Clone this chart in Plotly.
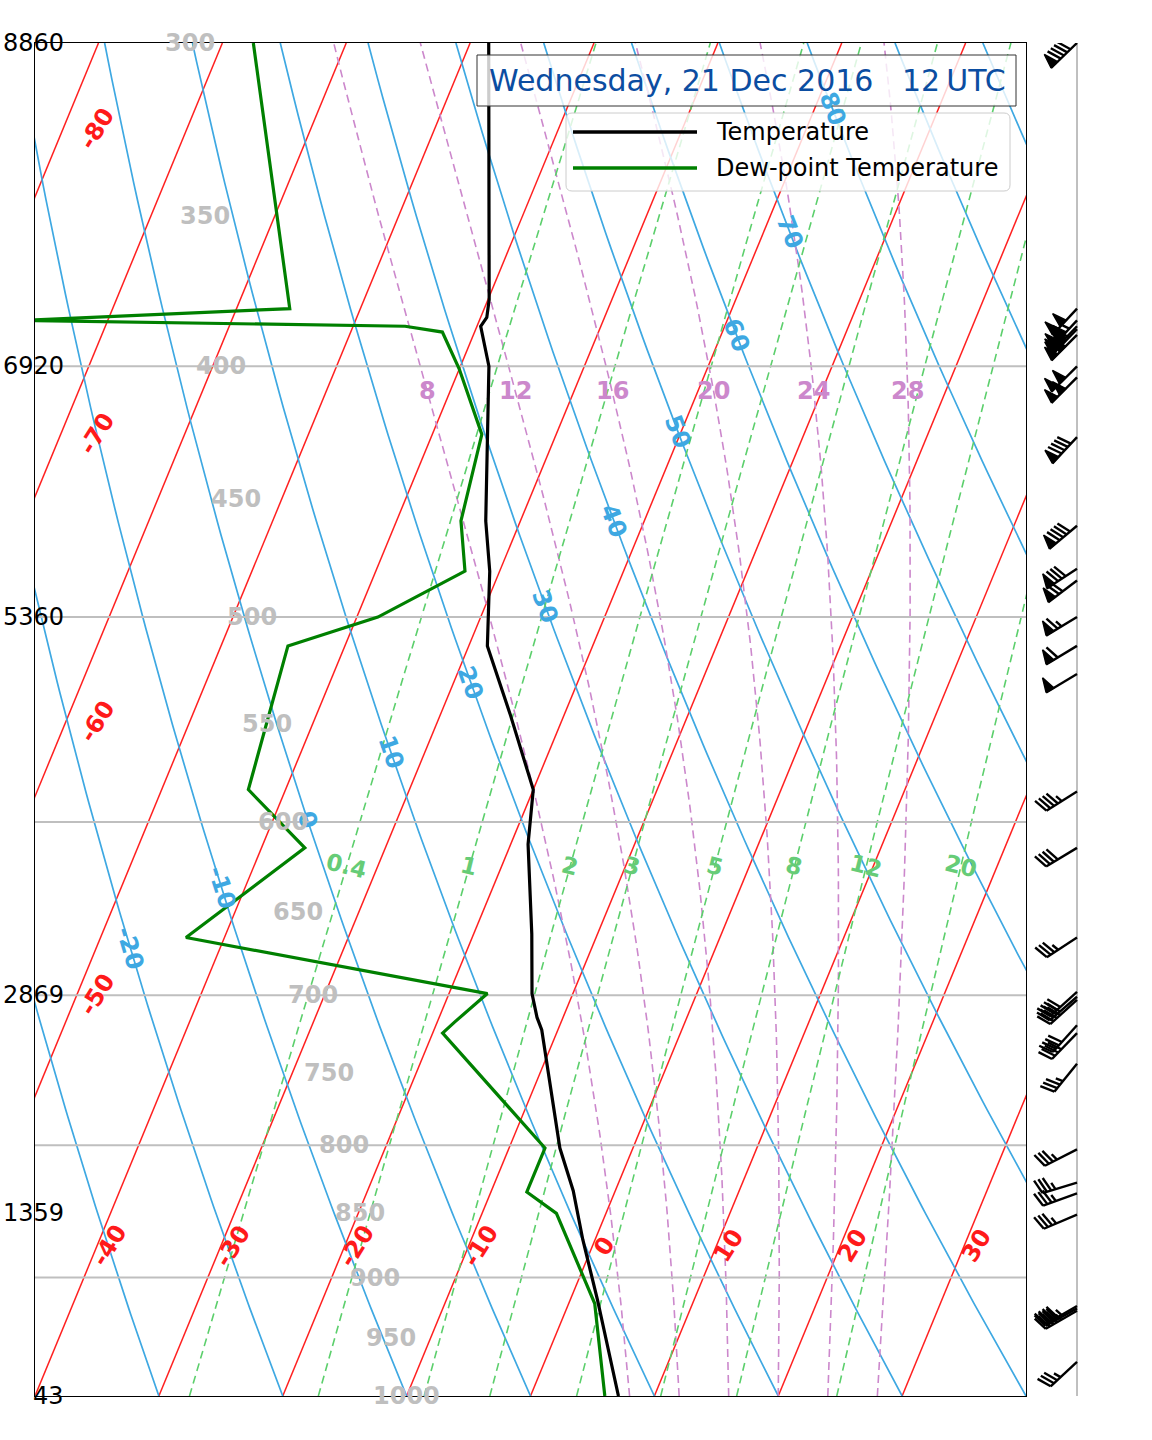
import numpy as np
import plotly.graph_objects as go

# ---------------- data ----------------
temp_p = [1000, 918, 870, 833, 802, 722, 714, 699, 663, 612, 583, 545, 513, 480, 459, 423, 400, 386, 383, 377, 300]
temp_c = [7.1, 2.2, -1.0, -3.4, -5.9, -11.3, -12.1, -13.3, -15.3, -18.6, -20.0, -24.4, -28.5, -30.8, -32.8, -35.7,
          -37.7, -39.7, -39.5, -39.9, -48.5]

dew_p = [1000, 921, 850, 834, 802, 724, 717, 699, 665, 614, 583, 513, 500, 480, 459, 425, 401, 388, 386, 384, 380, 300]
dew_c = [6.0, 2.1, -4.0, -7.1, -7.1, -19.2, -18.6, -16.9, -43.1, -36.5, -43.0, -44.6, -38.3, -32.8, -34.8, -36.0,
         -40.0, -42.6, -45.8, -77.0, -55.7, -67.5]

height_p = [300, 400, 500, 700, 850, 1000]
height_m = ["8860", "6920", "5360", "2869", "1359", "43"]

grid_p = [400, 500, 600, 700, 800, 900]
plabel_p = [300, 350, 400, 450, 500, 550, 600, 650, 700, 750, 800, 850, 900, 950, 1000]

isotherm_c = list(range(-140, 50, 10))
isotherm_label_c = [-80, -70, -60, -50, -40, -30, -20, -10, 0, 10, 20, 30]
dry_theta_c = list(range(-70, 180, 10))
dry_label_theta = [-20, -10, 0, 10, 20, 30, 40, 50, 60, 70, 80]
moist_thetaw_c = [8, 12, 16, 20, 24, 28]
mixing_gkg = [0.4, 1, 2, 3, 5, 8, 12, 20]
mixing_text = ["0.4", "1", "2", "3", "5", "8", "12", "20"]

wind_p = [300, 380, 384, 386, 387, 389, 400, 404, 426, 461, 479, 484, 500, 513, 526, 584, 614, 665,
          698, 701, 703, 719, 724, 744, 803, 827, 835, 851, 923, 925, 927, 970]
wind_dir = [226, 223, 223, 224, 224, 225, 225, 225, 223, 230, 237, 233, 239, 239, 239, 238, 239, 237,
            228, 229, 228, 222, 224, 219, 243, 253, 250, 247, 240, 241, 240, 227]
wind_kt = [90, 100, 105, 100, 105, 100, 100, 100, 90, 90, 80, 70, 65, 60, 50, 45, 40, 35,
           40, 40, 40, 40, 40, 35, 35, 35, 35, 35, 45, 40, 45, 35]

title_text = "Wednesday, 21 Dec 2016&nbsp;&nbsp;&nbsp;12\u2009UTC"

# ---------------- layout constants ----------------
W, H = 1152, 1440
PX_L, PX_R, PX_T, PX_B = 35.0, 1026.0, 43.0, 1396.0
BARB_X = 1077.0
P_BOT, P_TOP = 1000.0, 300.0
T_LEFT, T_RIGHT = -40.0, 40.0
SKEW_PX = 559.0
PX_PER_C = (PX_R - PX_L) / (T_RIGHT - T_LEFT)
SKEW_C = SKEW_PX / PX_PER_C
LOGSPAN = np.log10(P_BOT / P_TOP)
PLOT_H = PX_B - PX_T
FONT = "DejaVu Sans"

RED = "#ff1a1a"
BLUE = "#3ea8e2"
GREEN_D = "#5ccf6c"
PINK = "#cc88cc"
GRAY = "#bfbfbf"
LBL = 24


def yfrac(p):
    return np.log10(P_BOT / np.asarray(p, float)) / LOGSPAN


def skx(t, p):
    return np.asarray(t, float) + SKEW_C * yfrac(p)


def pix(t, p):
    x = PX_L + (skx(t, p) - T_LEFT) * PX_PER_C
    y = PX_B - yfrac(p) * PLOT_H
    return x, y


def fx(px):
    return px / W


def fy(py):
    return 1 - py / H


# ---------------- thermodynamics for background lines ----------------
Rd, Cp, Lv, EPS = 287.04749, 1004.6662, 2.50084e6, 0.621957
KAPPA = Rd / Cp


def es_hpa(tk):
    return 6.112 * np.exp(17.67 * (tk - 273.15) / (tk - 29.65))


def dtdp(p, tk):
    es = es_hpa(tk)
    rs = EPS * es / (p - es)
    return (1.0 / p) * (Rd * tk + Lv * rs) / (Cp + (Lv * Lv * rs * EPS) / (Rd * tk * tk))


def moist_profile(t0c, pres):
    tk = t0c + 273.15
    out = [tk]
    for i in range(1, len(pres)):
        p0, p1 = pres[i - 1], pres[i]
        h = p1 - p0
        k1 = dtdp(p0, tk)
        k2 = dtdp(p0 + h / 2, tk + h / 2 * k1)
        k3 = dtdp(p0 + h / 2, tk + h / 2 * k2)
        k4 = dtdp(p1, tk + h * k3)
        tk = tk + h / 6 * (k1 + 2 * k2 + 2 * k3 + k4)
        out.append(tk)
    return np.array(out) - 273.15


def dry_profile(theta_c, pres):
    return (theta_c + 273.15) * (np.asarray(pres, float) / 1000.0) ** KAPPA - 273.15


def mixing_td(w_gkg, pres):
    wk = w_gkg / 1000.0
    e = np.asarray(pres, float) * wk / (EPS + wk)
    lg = np.log(e / 6.112)
    return 243.5 * lg / (17.67 - lg)


fig = go.Figure()
pres = np.linspace(1000, 300, 141)

# isotherms
for t in isotherm_c:
    fig.add_trace(go.Scatter(x=skx([t, t], [1000, 300]), y=[1000, 300], mode="lines",
                             line=dict(color="#ff2020", width=1.5), hoverinfo="skip"))
# dry adiabats
for th in dry_theta_c:
    tt = dry_profile(th, pres)
    fig.add_trace(go.Scatter(x=skx(tt, pres), y=pres, mode="lines",
                             line=dict(color=BLUE, width=1.7), hoverinfo="skip"))
# moist adiabats
for tw in moist_thetaw_c:
    tt = moist_profile(tw, pres)
    fig.add_trace(go.Scatter(x=skx(tt, pres), y=pres, mode="lines",
                             line=dict(color=PINK, width=1.6, dash="8px,5px"), hoverinfo="skip"))
# mixing ratio lines
for w in mixing_gkg:
    tt = mixing_td(w, pres)
    fig.add_trace(go.Scatter(x=skx(tt, pres), y=pres, mode="lines",
                             line=dict(color=GREEN_D, width=1.6, dash="8px,5px"), hoverinfo="skip"))
# pressure grid lines
for gp in grid_p:
    fig.add_trace(go.Scatter(x=[T_LEFT, T_RIGHT], y=[gp, gp], mode="lines",
                             line=dict(color=GRAY, width=2), hoverinfo="skip"))

# profiles
fig.add_trace(go.Scatter(x=skx(dew_c, dew_p), y=dew_p, mode="lines",
                         line=dict(color="#008000", width=3.2), name="Dew-point Temperature"))
fig.add_trace(go.Scatter(x=skx(temp_c, temp_p), y=temp_p, mode="lines",
                         line=dict(color="black", width=3.2), name="Temperature"))

ann = []


def A(**kw):
    kw.setdefault("xanchor", "center")
    kw.setdefault("yanchor", "middle")
    kw.setdefault("showarrow", False)
    ann.append(kw)


# isotherm labels
iso_ang = -58
left_label_p = {-80: 324, -70: 425, -60: 549, -50: 700}
for t in isotherm_label_c:
    if t in left_label_p:
        lp = left_label_p[t]
        A(x=fx(97), xref="paper", y=np.log10(lp), yref="y", text=f"<b>{t}</b>",
          textangle=iso_ang, font=dict(family=FONT, size=LBL, color=RED))
    else:
        lp = 875
        A(x=float(skx(t, lp)), y=np.log10(lp), xref="x", yref="y", text=f"<b>{t}</b>",
          xshift=12, textangle=iso_ang, font=dict(family=FONT, size=LBL, color=RED))

# dry adiabat labels
dry_label_p = [671, 636, 599, 564, 530, 495, 459, 424, 389, 355, 318]
for th, lp in zip(dry_label_theta, dry_label_p):
    pa = np.array([lp * 0.99, lp * 1.01])
    xa, ya = pix(dry_profile(th, pa), pa)
    ang = np.degrees(np.arctan2(ya[1] - ya[0], xa[1] - xa[0]))
    A(x=float(skx(dry_profile(th, lp), lp)), y=np.log10(lp), xref="x", yref="y",
      text=f"<b>{th}</b>", textangle=ang, font=dict(family=FONT, size=LBL, color=BLUE))

# moist adiabat labels
moist_label_p = 409
for tw in moist_thetaw_c:
    pp = np.linspace(1000, moist_label_p, 121)
    tt = moist_profile(tw, pp)
    A(x=float(skx(tt[-1], moist_label_p)), y=np.log10(moist_label_p), xref="x", yref="y",
      text=f"<b>{tw}</b>", font=dict(family=FONT, size=LBL, color=PINK))

# mixing ratio labels
mix_label_p = 624
for w, txt in zip(mixing_gkg, mixing_text):
    A(x=float(skx(mixing_td(w, mix_label_p), mix_label_p)), y=np.log10(mix_label_p),
      xref="x", yref="y", text=f"<b>{txt}</b>", textangle=14,
      font=dict(family=FONT, size=LBL - 1, color="#66cc77"))

# pressure labels (gray, inside plot)
for p in plabel_p:
    A(x=fx(406 - 0.3086 * (1000 - p)), xref="paper", y=np.log10(p), yref="y",
      text=f"<b>{p}</b>", font=dict(family=FONT, size=LBL, color=GRAY))

# height labels on left
for p, hm in zip(height_p, height_m):
    A(x=fx(66), xref="paper", xanchor="right", y=np.log10(p), yref="y",
      text=hm, font=dict(family=FONT, size=24, color="black"))

# title box
shapes = []
shapes.append(dict(type="rect", xref="paper", yref="paper", x0=fx(477), x1=fx(1016), y0=fy(106), y1=fy(55),
                   fillcolor="rgba(255,255,255,0.8)", line=dict(color="#333333", width=1)))
A(x=fx(747), y=fy(80), xref="paper", yref="paper", text=title_text,
  font=dict(family=FONT, size=30, color="#0b4da1"))


# legend box (rounded)
def rrect(x0, y0, x1, y1, r):
    a, b, c, d = fx(x0), fx(x1), fy(y0), fy(y1)
    rx, ry = r / W, r / H
    return (f"M {a+rx},{c} L {b-rx},{c} Q {b},{c} {b},{c-ry} L {b},{d+ry} Q {b},{d} {b-rx},{d} "
            f"L {a+rx},{d} Q {a},{d} {a},{d+ry} L {a},{c-ry} Q {a},{c} {a+rx},{c} Z")


shapes.append(dict(type="path", xref="paper", yref="paper", path=rrect(566, 113, 1010, 191, 6),
                   fillcolor="rgba(255,255,255,0.8)", line=dict(color="#cccccc", width=1)))
for yy, col, txt in [(132, "black", "Temperature"), (168, "#008000", "Dew-point Temperature")]:
    shapes.append(dict(type="line", xref="paper", yref="paper", x0=fx(573), x1=fx(697), y0=fy(yy), y1=fy(yy),
                       line=dict(color=col, width=3.5)))
    A(x=fx(714), y=fy(yy), xref="paper", yref="paper", xanchor="left", text=txt,
      font=dict(family=FONT, size=24, color="black"))

# ---------------- wind barbs ----------------
BL = 36.0
sp, fh, fw = 0.125 * BL, 0.4 * BL, 0.25 * BL
UPLOG = LOGSPAN / PLOT_H
lx, ly, tx, ty = [], [], [], []


def to_axes(p, d, pts):
    sd = np.array([np.sin(np.radians(d)), np.cos(np.radians(d))])
    fd = np.array([np.cos(np.radians(d)), -np.sin(np.radians(d))])
    xs, ys = [], []
    for a, b in pts:
        e, u = a * fd + b * sd
        xs.append(BARB_X + e)
        ys.append(p * 10 ** (-u * UPLOG))
    return xs, ys


for p, d, s in zip(wind_p, wind_dir, wind_kt):
    s = int(5 * round(s / 5.0))
    nf = s // 50
    rem = s - 50 * nf
    nb = rem // 10
    half = (rem - 10 * nb) >= 5
    xs, ys = to_axes(p, d, [(0, 0), (0, BL)])
    lx += xs + [None]
    ly += ys + [None]
    off = BL
    for i in range(nf):
        if off != BL:
            off += sp / 2
        xs, ys = to_axes(p, d, [(0, off), (fh, off - fw / 2), (0, off - fw), (0, off)])
        tx += xs + [None]
        ty += ys + [None]
        off -= fw + sp
    for i in range(nb):
        xs, ys = to_axes(p, d, [(0, off), (fh, off + fw / 2)])
        lx += xs + [None]
        ly += ys + [None]
        off -= sp
    if half:
        if off == BL:
            off -= 1.5 * sp
        xs, ys = to_axes(p, d, [(0, off), (fh / 2, off + fw / 4)])
        lx += xs + [None]
        ly += ys + [None]

fig.add_trace(go.Scatter(x=[BARB_X, BARB_X], y=[1000, 300], xaxis="x2", yaxis="y", mode="lines",
                         line=dict(color="#808080", width=1), hoverinfo="skip"))
fig.add_trace(go.Scatter(x=lx, y=ly, xaxis="x2", yaxis="y", mode="lines",
                         line=dict(color="black", width=2.4), hoverinfo="skip"))
fig.add_trace(go.Scatter(x=tx, y=ty, xaxis="x2", yaxis="y", mode="lines", fill="toself",
                         fillcolor="black", line=dict(color="black", width=1.5), hoverinfo="skip"))

fig.update_layout(
    width=W, height=H, margin=dict(l=0, r=0, t=0, b=0),
    paper_bgcolor="white", plot_bgcolor="white", showlegend=False,
    xaxis=dict(domain=[PX_L / W, PX_R / W], range=[T_LEFT, T_RIGHT], showgrid=False, zeroline=False,
               showticklabels=False, ticks="", showline=True, linecolor="black", linewidth=1, mirror=True),
    yaxis=dict(domain=[1 - PX_B / H, 1 - PX_T / H], type="log", range=[3, np.log10(300)], showgrid=False,
               zeroline=False, showticklabels=False, ticks="", showline=True, linecolor="black",
               linewidth=1, mirror=True),
    xaxis2=dict(domain=[PX_R / W, 1.0], range=[PX_R, W], anchor="y", visible=False),
    annotations=ann, shapes=shapes,
)

fig.write_html("out.html", config={"displayModeBar": False},
               post_script="document.body.style.margin='0px';")
